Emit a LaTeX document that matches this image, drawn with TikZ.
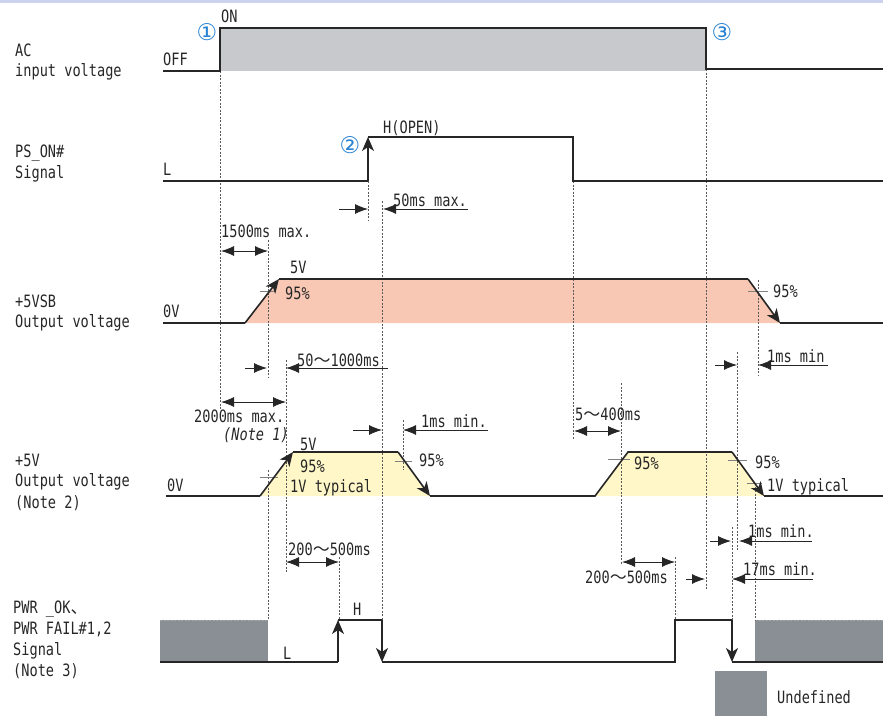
\documentclass[tikz,border=0pt]{standalone}
\usepackage{fontspec}
\setmainfont{DejaVu Sans Mono}[FakeStretch=0.8]
\newfontfamily\circfont{DejaVu Sans}
\newfontfamily\cjk{Noto Sans CJK JP}
\usetikzlibrary{arrows.meta}

\definecolor{topband}{RGB}{205,210,238}
\definecolor{acfill}{RGB}{200,201,204}
\definecolor{sbfill}{RGB}{249,200,181}
\definecolor{vfill}{RGB}{255,247,200}
\definecolor{undef}{RGB}{138,143,150}
\definecolor{circblue}{RGB}{40,130,210}

\newcommand{\wv}{{\cjk ～}}
\newcommand{\tn}{{\cjk 、}}

\tikzset{
  sig/.style={line width=1.6pt, draw=black!85, line join=miter},
  sigarr/.style={sig, -{Stealth[length=14pt,width=12pt,inset=4pt]}},
  guide/.style={line width=0.5pt, draw=black!65, dash pattern=on 2pt off 1.5pt},
  dimarr/.style={line width=0.9pt, draw=black!85, -{Latex[length=13pt,width=10pt]}},
  dimboth/.style={line width=0.9pt, draw=black!85, {Latex[length=13pt,width=10pt]}-{Latex[length=13pt,width=10pt]}},
  tick/.style={line width=0.5pt, draw=black!50},
  txt/.style={inner sep=0pt, anchor=base west, font=\fontsize{17}{20}\selectfont, text=black!85},
  num/.style={inner sep=0pt, font=\circfont\fontsize{23}{26}\selectfont, text=circblue},
}

\begin{document}
\begin{tikzpicture}[x=1pt, y=-1pt]
\useasboundingbox (0,0) rectangle (883,720);

% top band
\fill[topband] (0,0) rectangle (883,3);

% Fill areas
\fill[acfill] (220,28) rectangle (706,71);
\fill[sbfill] (245,323) -- (279,279) -- (748,279) -- (780,323) -- cycle;
\fill[vfill] (260,496) -- (293,452) -- (398,452) -- (430,496) -- cycle;
\fill[vfill] (595,496) -- (628,452) -- (732,452) -- (764,496) -- cycle;
\fill[undef] (160,620) rectangle (268,662);
\fill[undef] (755,620) rectangle (883,662);
\fill[undef] (715,671) rectangle (767,716);
\draw[guide, draw=black!35] (160,620) -- (268,620);
\draw[guide, draw=black!35] (755,620) -- (883,620);

% Dashed guide lines
\foreach \x/\a/\b in {220/71/410, 368/181/220, 382/201/620, 573/181/440,
  706/69/590, 268/240/377, 268/470/620, 286/360/572, 403/420/470,
  621/383/565, 737/352/550, 758/280/375, 755/483/620, 732/527/620,
  675/557/620, 339/557/620} {
  \draw[guide] (\x,\a) -- (\x,\b);
}

% Level ticks
\draw[tick] (260,291) -- (276,291);
\draw[tick] (748,291) -- (768,291);
\draw[tick] (260,477) -- (278,477);
\draw[tick] (395,461) -- (412,461);
\draw[tick] (608,459) -- (630,459);
\draw[tick] (728,460) -- (747,460);
\draw[tick] (747,483) -- (762,483);

% AC input voltage
\draw[sig] (163,71) -- (220,71) -- (220,28) -- (706,28) -- (706,69) -- (883,69);

% PS_ON# signal
\draw[sig] (163,181) -- (368,181);
\draw[sigarr] (368,181) -- (368,137);
\draw[sig] (368,137) -- (573,137) -- (573,181) -- (883,181);

% +5VSB output voltage
\draw[sig] (163,323) -- (245,323);
\draw[sigarr] (245,323) -- (279,279);
\draw[sig] (279,279) -- (748,279);
\draw[sigarr] (748,279) -- (780,323);
\draw[sig] (780,323) -- (883,323);

% +5V output voltage
\draw[sig] (166,496) -- (260,496);
\draw[sigarr] (260,496) -- (293,452);
\draw[sig] (293,452) -- (398,452);
\draw[sigarr] (398,452) -- (430,496);
\draw[sig] (430,496) -- (595,496) -- (628,452) -- (732,452);
\draw[sigarr] (732,452) -- (764,496);
\draw[sig] (764,496) -- (883,496);

% PWR_OK signal
\draw[sig] (160,662) -- (338,662);
\draw[sigarr] (338,662) -- (338,620);
\draw[sig] (338,620) -- (382,620);
\draw[sigarr] (382,620) -- (382,662);
\draw[sig] (382,662) -- (675,662) -- (675,620) -- (732,620);
\draw[sigarr] (732,620) -- (732,662);
\draw[sig] (732,662) -- (883,662);

% Timing arrows
\draw[dimboth] (221,251) -- (268,251);
\draw[dimarr] (339,209) -- (368,209);
\draw[dimarr] (468,209) -- (383,209);
\draw[dimarr] (245,368) -- (267,368);
\draw[dimarr] (388,368) -- (286,368);
\draw[dimboth] (221,402) -- (286,402);
\draw[dimarr] (353,430) -- (382,430);
\draw[dimarr] (488,430) -- (403,430);
\draw[dimboth] (574,431) -- (621,431);
\draw[dimarr] (715,365) -- (737,365);
\draw[dimarr] (828,365) -- (758,365);
\draw[dimboth] (286,562) -- (339,562);
\draw[dimboth] (622,562) -- (675,562);
\draw[dimarr] (710,541) -- (731,541);
\draw[dimarr] (812,541) -- (739,541);
\draw[dimarr] (686,579) -- (705,579);
\draw[dimarr] (813,579) -- (732,579);

% Row labels
\node[txt] (lblAC) at (15,56) {AC};
\node[txt] (lblACin) at (15,76) {input voltage};
\node[txt] (lblPS) at (15,157) {PS\_ON\#};
\node[txt] (lblPSsig) at (15,178) {Signal};
\node[txt] (lblSB) at (15,307) {+5VSB};
\node[txt] (lblSBout) at (15,327) {Output voltage};
\node[txt] (lblV) at (15,466) {+5V};
\node[txt] (lblVout) at (15,486) {Output voltage};
\node[txt] (lblVnote) at (15,508) {(Note 2)};
\node[txt] (lblPW) at (13,613) {PWR \_OK\tn};
\node[txt] (lblPWfail) at (13,634) {PWR FAIL\#1,2};
\node[txt] (lblPWsig) at (13,655) {Signal};
\node[txt] (lblPWnote) at (13,676) {(Note 3)};

% Level labels
\node[txt] (acOn) at (221,22) {ON};
\node[txt] (acOff) at (163,65) {OFF};
\node[txt] (psL) at (163,175) {L};
\node[txt] (psH) at (383,133) {H(OPEN)};
\node[txt] (sbHi) at (290,273) {5V};
\node[txt] (sbLo) at (163,317) {0V};
\node[txt] (sbRise) at (285,299) {95\%};
\node[txt] (sbFall) at (773,297) {95\%};
\node[txt] (vHi) at (300,450) {5V};
\node[txt] (vLo) at (167,491) {0V};
\node[txt] (vRise) at (300,472) {95\%};
\node[txt] (vTyp) at (290,492) {1V typical};
\node[txt] (vFall) at (419,466) {95\%};
\node[txt] (vRiseB) at (634,469) {95\%};
\node[txt] (vFallB) at (755,468) {95\%};
\node[txt] (vTypB) at (767,491) {1V typical};
\node[txt] (pwH) at (353,615) {H};
\node[txt] (pwL) at (283,659) {L};

% Timing labels
\node[txt] (tA) at (221,237) {1500ms max.};
\node[txt] (tB) at (393,206) {50ms max.};
\node[txt] (tC) at (297,366) {50\wv1000ms};
\node[txt] (tD) at (194,422) {2000ms max.};
\node[txt, font=\fontsize{17}{20}\selectfont\itshape] (tDnote) at (223,440) {(Note 1)};
\node[txt] (tE) at (421,427) {1ms min.};
\node[txt] (tF) at (575,420) {5\wv400ms};
\node[txt] (tG) at (767,362) {1ms min};
\node[txt] (tH) at (288,555) {200\wv500ms};
\node[txt] (tI) at (585,583) {200\wv500ms};
\node[txt] (tJ) at (748,537) {1ms min.};
\node[txt] (tK) at (743,575) {17ms min.};

% Event markers
\node[num] (evOne) at (207,32) {①};
\node[num] (evTwo) at (350,145) {②};
\node[num] (evThree) at (722,32) {③};

% Legend
\node[txt] (legUndef) at (777,703) {Undefined};
\end{tikzpicture}
\end{document}
